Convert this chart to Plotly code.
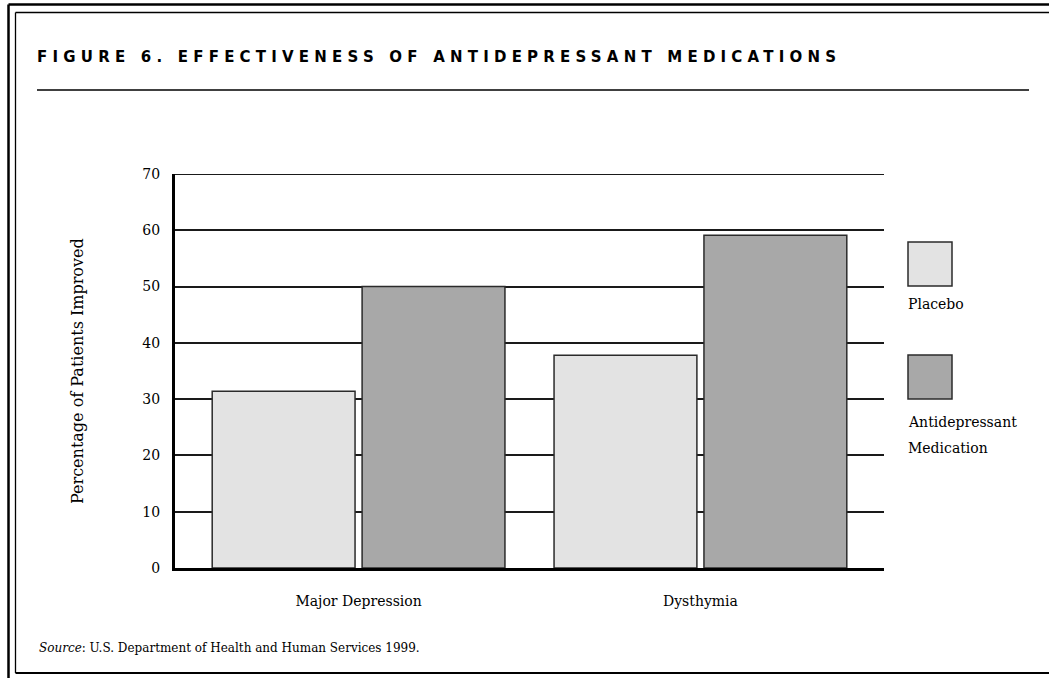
import plotly.graph_objects as go

# ---------------- data ----------------
categories = ["Major Depression", "Dysthymia"]
placebo = [31.4, 37.8]
medication = [50.0, 59.1]
series_names = ["Placebo", "Antidepressant Medication"]
y_ticks = [0, 10, 20, 30, 40, 50, 60, 70]

title_text = "FIGURE 6. EFFECTIVENESS OF ANTIDEPRESSANT MEDICATIONS"
y_title = "Percentage of Patients Improved"
source_text = "<i>Source</i>: U.S. Department of Health and Human Services 1999."

# ---------------- layout geometry (pixels) ----------------
W, H = 1049, 678
L, R, T, B = 175, 884, 174, 568

def px(x):
    return (x - L) / (R - L)

def py(y):
    return (B - y) / (B - T)

SERIF = "DejaVu Serif"
C_PLACEBO = "#e3e3e3"
C_MED = "#a8a8a8"
EDGE = "#2b2b2b"
GRID = "#1a1a1a"

fig = go.Figure()
fig.add_trace(go.Bar(x=categories, y=placebo, name=series_names[0],
                     marker=dict(color=C_PLACEBO, line=dict(color=EDGE, width=1.5))))
fig.add_trace(go.Bar(x=categories, y=medication, name=series_names[1],
                     marker=dict(color=C_MED, line=dict(color=EDGE, width=1.5))))

shapes = []
def line(x0, y0, x1, y1, w, c="black"):
    shapes.append(dict(type="line", xref="paper", yref="paper",
                       x0=px(x0), y0=py(y0), x1=px(x1), y1=py(y1),
                       line=dict(color=c, width=w)))

# top gridline at the axis maximum (plotly omits it at the range end)
shapes.append(dict(type="line", xref="paper", yref="y", x0=0, x1=1,
                   y0=y_ticks[-1], y1=y_ticks[-1],
                   line=dict(color=GRID, width=1.8)))

# frames
line(8.5, 4.5, W + 2, 4.5, 2.5)
line(8.5, 4.5, 8.5, H + 2, 2.5)
line(15.5, 12.5, W + 2, 12.5, 1.3)
line(15.5, 12.5, 15.5, 673, 1.3)
line(15.5, 673, W + 2, 673, 2.2)
# rule under title
line(37, 90, 1029, 90, 1.3)

# legend swatches
for (y0, y1, col) in [(242, 286, C_PLACEBO), (355, 399, C_MED)]:
    shapes.append(dict(type="rect", xref="paper", yref="paper",
                       x0=px(908), x1=px(952), y0=py(y1), y1=py(y0),
                       fillcolor=col, line=dict(color=EDGE, width=1.5)))

annotations = [
    dict(text="<b>" + title_text + "</b>", x=px(37), y=py(57), xref="paper", yref="paper",
         xanchor="left", yanchor="middle", showarrow=False,
         font=dict(family="DejaVu Sans", size=15, color="black")),
    dict(text=source_text, x=px(37), y=py(648), xref="paper", yref="paper",
         xanchor="left", yanchor="middle", showarrow=False,
         font=dict(family=SERIF, size=12, color="black")),
    dict(text=y_title, x=px(77), y=py(371), xref="paper", yref="paper",
         xanchor="center", yanchor="middle", textangle=-90, showarrow=False,
         font=dict(family=SERIF, size=16, color="black")),
    dict(text="Placebo", x=px(906), y=py(304), xref="paper", yref="paper",
         xanchor="left", yanchor="middle", showarrow=False,
         font=dict(family=SERIF, size=14, color="black")),
    dict(text="Antidepressant", x=px(906), y=py(422), xref="paper", yref="paper",
         xanchor="left", yanchor="middle", showarrow=False,
         font=dict(family=SERIF, size=14, color="black")),
    dict(text="Medication", x=px(906), y=py(448), xref="paper", yref="paper",
         xanchor="left", yanchor="middle", showarrow=False,
         font=dict(family=SERIF, size=14, color="black")),
]

fig.update_layout(
    width=W, height=H,
    margin=dict(l=L, r=W - R, t=T, b=H - B, pad=0),
    paper_bgcolor="white", plot_bgcolor="white",
    barmode="group", bargap=0.123, bargroupgap=0.047,
    showlegend=False,
    shapes=shapes, annotations=annotations,
    font=dict(family=SERIF, size=14, color="black"),
)
fig.update_xaxes(range=[-0.537, 1.537], showgrid=False, zeroline=False,
                 showline=True, linecolor="black", linewidth=3,
                 ticks="", ticklabelstandoff=18,
                 tickfont=dict(family=SERIF, size=14, color="black"))
fig.update_yaxes(range=[0, 70], tickvals=y_ticks, showgrid=True,
                 gridcolor=GRID, gridwidth=1.6, zeroline=False,
                 showline=True, linecolor="black", linewidth=3,
                 ticks="", ticklabelstandoff=9,
                 tickfont=dict(family=SERIF, size=14, color="black"))

post = """
document.body.style.margin = '0';
var gd = document.getElementById('{plot_id}');
var texts = gd.querySelectorAll('text');
texts.forEach(function(el){
  if (el.textContent.indexOf('FIGURE 6.') === 0) {
    var n = el.textContent.length;
    el.style.letterSpacing = '0px';
    var r0 = el.getBoundingClientRect();
    var w0 = r0.width;
    var ls = (799 - w0) / (n - 1);
    el.style.letterSpacing = ls + 'px';
    el.setAttribute('text-anchor', 'start');
    var r = el.getBoundingClientRect();
    var gr = gd.getBoundingClientRect();
    var x = parseFloat(el.getAttribute('x')) || 0;
    el.setAttribute('x', x + (37 - (r.left - gr.left)));
  }
});
"""

fig.write_html("out.html", post_script=post, config=dict(displayModeBar=False))
